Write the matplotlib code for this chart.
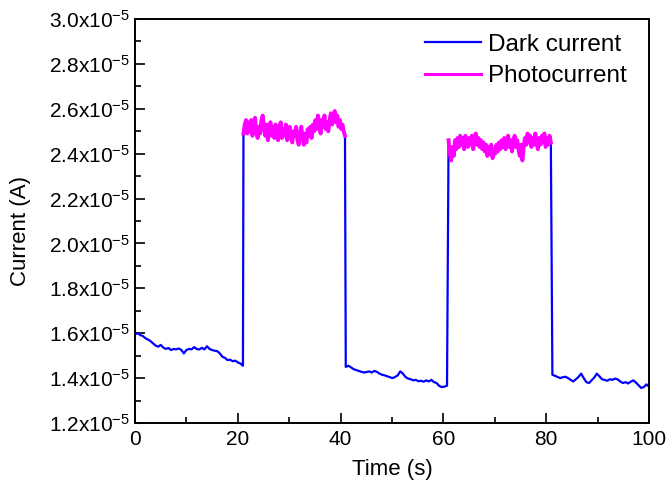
import numpy as np
import matplotlib
matplotlib.use("Agg")
import matplotlib.pyplot as plt

plt.rcParams["font.family"] = ["Liberation Sans", "DejaVu Sans"]
plt.rcParams["mathtext.fontset"] = "custom"
plt.rcParams["mathtext.rm"] = "Liberation Sans"
plt.rcParams["mathtext.it"] = "Liberation Sans:italic"

# current values in units of 1e-5 A
dark1 = [1.595, 1.600, 1.592, 1.588, 1.578, 1.572, 1.565, 1.555, 1.545, 1.540,
         1.548, 1.536, 1.530, 1.534, 1.525, 1.530, 1.528, 1.532, 1.526, 1.510,
         1.525, 1.530, 1.528, 1.538, 1.530, 1.527, 1.535, 1.528, 1.542, 1.530,
         1.525, 1.522, 1.520, 1.510, 1.495, 1.490, 1.480, 1.482, 1.475, 1.478,
         1.470, 1.465, 1.455]
photo1 = [2.49, 2.53, 2.55, 2.49, 2.54, 2.50, 2.55, 2.48, 2.53, 2.56,
          2.50, 2.47, 2.52, 2.49, 2.55, 2.57, 2.51, 2.48, 2.53, 2.46,
          2.51, 2.54, 2.48, 2.52, 2.47, 2.53, 2.50, 2.46, 2.52, 2.54,
          2.47, 2.51, 2.48, 2.53, 2.46, 2.50, 2.52, 2.47, 2.45, 2.50,
          2.48, 2.52, 2.46, 2.44, 2.49, 2.52, 2.47, 2.44, 2.49, 2.45,
          2.51, 2.48, 2.52, 2.47, 2.53, 2.50, 2.55, 2.51, 2.57, 2.53,
          2.49, 2.55, 2.52, 2.57, 2.51, 2.54, 2.50, 2.55, 2.58, 2.53,
          2.56, 2.59, 2.54, 2.57, 2.52, 2.55, 2.51, 2.53, 2.50, 2.48]
dark2 = [1.450, 1.455, 1.448, 1.440, 1.436, 1.432, 1.428, 1.425, 1.427, 1.430,
         1.425, 1.432, 1.428, 1.420, 1.415, 1.412, 1.408, 1.404, 1.400, 1.405,
         1.412, 1.430, 1.420, 1.405, 1.398, 1.395, 1.390, 1.392, 1.386, 1.388,
         1.384, 1.390, 1.385, 1.392, 1.382, 1.378, 1.365, 1.360, 1.362, 1.366]
photo2 = [2.46, 2.40, 2.37, 2.43, 2.39, 2.46, 2.42, 2.47, 2.43, 2.48,
          2.44, 2.47, 2.42, 2.48, 2.45, 2.43, 2.47, 2.44, 2.48, 2.42,
          2.46, 2.49, 2.44, 2.47, 2.43, 2.46, 2.42, 2.45, 2.41, 2.44,
          2.39, 2.43, 2.40, 2.44, 2.38, 2.42, 2.40, 2.44, 2.41, 2.45,
          2.42, 2.46, 2.43, 2.47, 2.42, 2.45, 2.48, 2.43, 2.46, 2.41,
          2.45, 2.48, 2.43, 2.46, 2.42, 2.39, 2.44, 2.37, 2.43, 2.47,
          2.44, 2.49, 2.45, 2.48, 2.43, 2.47, 2.44, 2.49, 2.45, 2.42,
          2.47, 2.44, 2.48, 2.45, 2.49, 2.43, 2.47, 2.44, 2.48, 2.45]
dark3 = [1.415, 1.410, 1.405, 1.400, 1.404, 1.406, 1.400, 1.392, 1.385, 1.395,
         1.405, 1.420, 1.400, 1.382, 1.378, 1.390, 1.402, 1.420, 1.408, 1.395,
         1.392, 1.388, 1.395, 1.392, 1.398, 1.394, 1.385, 1.378, 1.382, 1.376,
         1.384, 1.390, 1.380, 1.368, 1.356, 1.360, 1.372, 1.362]

# (start, end) time of each segment in seconds
segment_times = [(0.0, 21.0), (21.1, 40.85), (41.0, 60.7), (61.0, 80.9), (81.2, 100.0)]

y_ticks = [1.2, 1.4, 1.6, 1.8, 2.0, 2.2, 2.4, 2.6, 2.8, 3.0]
x_ticks = [0, 20, 40, 60, 80, 100]

segments = [dark1, photo1, dark2, photo2, dark3]
times = [np.linspace(a, b, len(v)) for (a, b), v in zip(segment_times, segments)]
t_all = np.concatenate(times)
i_all = np.concatenate(segments) * 1e-5

fig = plt.figure(figsize=(6.7, 4.95), dpi=100)
ax = fig.add_axes([0.2015, 0.1455, 0.7672, 0.816])

ax.plot(t_all, i_all, color="#0000ff", lw=1.6, label="Dark current")
ax.plot(times[1], np.array(photo1) * 1e-5, color="#ff00ff", lw=2.8, label="Photocurrent")
ax.plot(times[3], np.array(photo2) * 1e-5, color="#ff00ff", lw=2.8)

ax.set_xlim(0, 100)
ax.set_ylim(1.2e-5, 3.0e-5)
ax.set_xticks(x_ticks)
ax.set_xticks(np.arange(10, 100, 20), minor=True)
ax.set_yticks(np.array(y_ticks) * 1e-5)
ax.set_yticklabels([r"$\mathregular{%.1fx10^{-5}}$" % v for v in y_ticks])
ax.set_yticks(np.arange(1.3, 3.0, 0.2) * 1e-5, minor=True)
ax.tick_params(which="both", direction="in", labelsize=15, width=1.2,
               top=False, right=False)
ax.tick_params(which="major", length=7)
ax.tick_params(which="minor", length=4)
ax.tick_params(axis="x", pad=5)
for s in ax.spines.values():
    s.set_linewidth(1.4)

ax.set_xlabel("Time (s)", fontsize=16, labelpad=7)
ax.set_ylabel("Current (A)", fontsize=16, labelpad=13)
ax.yaxis.label.set_y(0.475)

leg = ax.legend(loc="upper right", frameon=False, fontsize=17.5, handlelength=2.3,
                labelspacing=0.4, handletextpad=0.3, borderaxespad=0.2,
                bbox_to_anchor=(0.985, 1.0))
leg.get_lines()[0].set_linewidth(1.6)
leg.get_lines()[1].set_linewidth(2.2)

fig.savefig("out.png", dpi=100)
